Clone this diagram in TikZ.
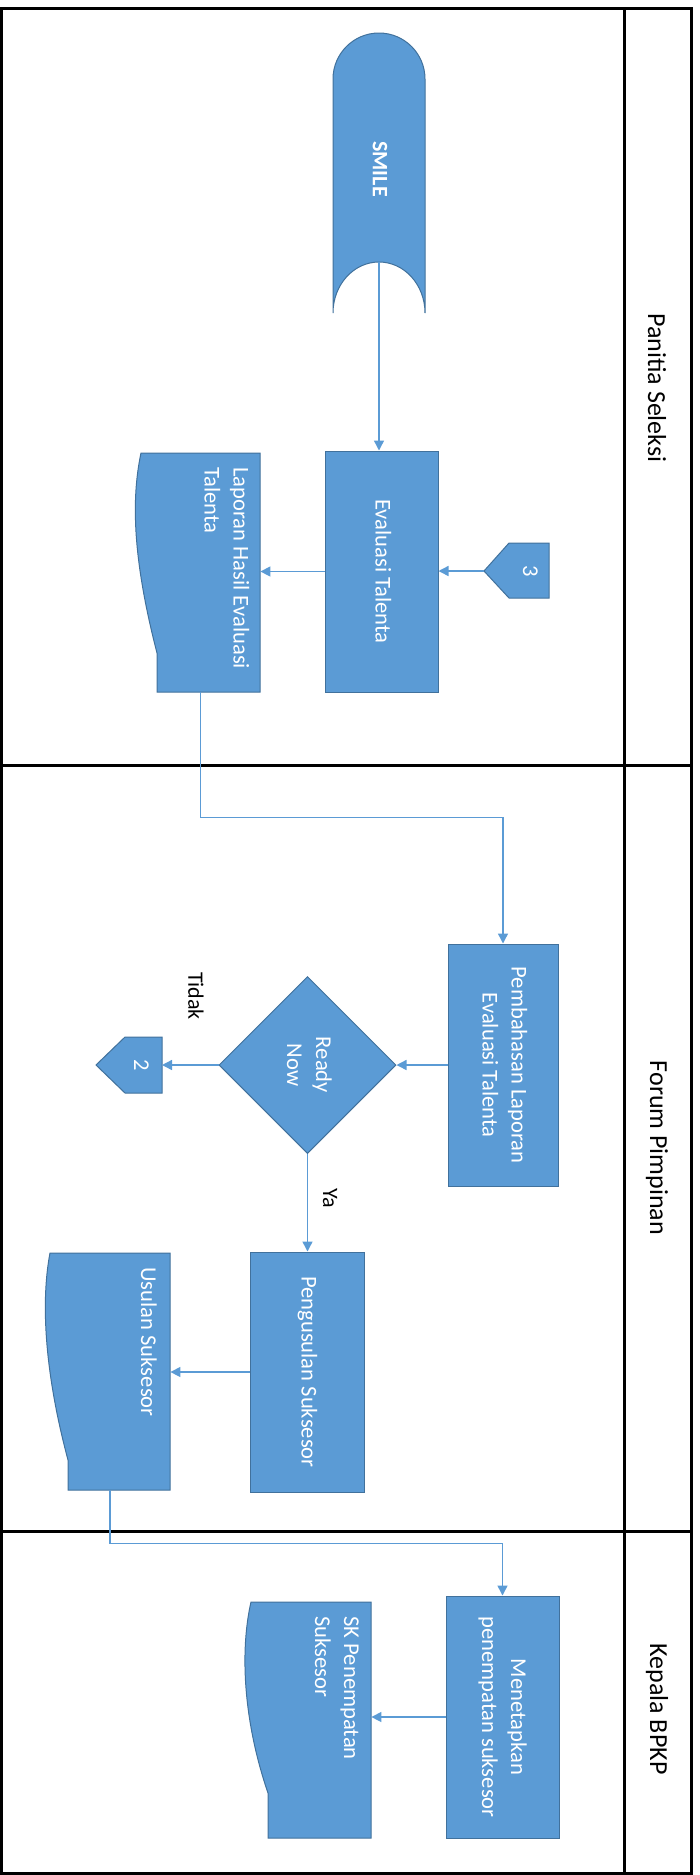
\documentclass[tikz,border=0pt]{standalone}
\usepackage{fontspec}
\setmainfont{Carlito}
\usepackage{graphicx}
\usepackage{tikz}
\usetikzlibrary{arrows.meta,shapes.geometric}

\definecolor{birubox}{RGB}{91,155,213}
\definecolor{birutepi}{RGB}{65,113,156}

\newcommand{\tegak}[1]{\rotatebox{-90}{\begin{tabular}{@{}c@{}}#1\end{tabular}}}
\newcommand{\tegakkiri}[1]{\rotatebox{-90}{\begin{tabular}{@{}l@{}}#1\end{tabular}}}

\tikzset{
	kotak/.style={draw=birutepi, fill=birubox, text=white, inner sep=0pt, line width=0.5pt, font=\fontsize{11.3}{14.5}\selectfont},
	bingkai/.style={inner sep=0pt, text=white, font=\fontsize{11.3}{14.5}\selectfont},
	panah/.style={draw=birubox, line width=0.7pt, -{Triangle[length=5pt,width=5pt]}},
	lajur/.style={font=\fontsize{13}{15}\selectfont, rotate=-90},
	ket/.style={font=\fontsize{11}{13}\selectfont, rotate=-90},
	bentuk/.style={draw=birutepi, fill=birubox, line width=0.5pt},
}

\begin{document}
\begin{tikzpicture}[x=0.5pt, y=-0.5pt]
	\useasboundingbox (0,0) rectangle (700,1875);
	% lajur
	\draw[line width=1.5pt] (1,8) rectangle (691,1873);
	\draw[line width=1.5pt] (624,8) -- (624,1873);
	\foreach \y in {765, 1531} {
			\draw[line width=1.5pt] (1,\y) -- (691,\y);
		}
	\node[lajur] (panitia) at (657,388) {Panitia Seleksi};
	\node[lajur] (forum) at (657,1148) {Forum Pimpinan};
	\node[lajur] (kepala) at (657,1709) {Kepala BPKP};
	% smile
	\draw[bentuk] (333,313) -- (333,79) arc[start angle=180, end angle=360, radius=46] -- (425,313) arc[start angle=0, end angle=-180, x radius=46, y radius=51] -- cycle;
	\node[font=\bfseries\fontsize{11}{13}\selectfont, text=white, rotate=-90] (smile) at (380,169) {SMILE};
	\coordinate (smilebawah) at (379,262);
	% evaluasi
	\node[kotak, minimum width=56.5pt, minimum height=120.5pt] (eval) at (381.5,571.5) {\tegak{Evaluasi Talenta}};
	% konektor 3
	\draw[bentuk] (549,543) -- (509,543) -- (484,571) -- (509,598) -- (549,598) -- cycle;
	\node[bingkai] (tiga) at (529,571) {\tegak{3}};
	\coordinate (tigaujung) at (484,571);
	% laporan
	\draw[bentuk] (141,453) -- (260,453) -- (260,692) -- (157,692) -- (157,653) .. controls (133,560) and (131,500) .. (141,453) -- cycle;
	\node[minimum width=59.5pt, minimum height=119.5pt, inner sep=0pt] (lap) at (200.5,572.5) {};
	\node[bingkai, anchor=north] (laptext) at (225,467) {\tegakkiri{Laporan Hasil Evaluasi\\Talenta}};
	% pembahasan
	\node[kotak, minimum width=55pt, minimum height=121pt] (bahas) at (503,1065) {\tegak{Pembahasan Laporan\\Evaluasi Talenta}};
	% ready now
	\node[kotak, diamond, aspect=1, minimum width=88.5pt, minimum height=88.5pt] (siap) at (307.5,1065) {\tegak{Ready\\Now}};
	% konektor 2
	\draw[bentuk] (162,1037) -- (125,1037) -- (96,1065) -- (125,1093) -- (162,1093) -- cycle;
	\node[bingkai] (dua) at (140,1065) {\tegak{2}};
	\coordinate (duakanan) at (162,1065);
	\node[ket] (tidak) at (196,996) {Tidak};
	\node[ket] (ya) at (330,1198) {Ya};
	% pengusulan
	\node[kotak, minimum width=57pt, minimum height=120pt] (usul) at (307.5,1372) {\tegak{Pengusulan Suksesor}};
	% usulan suksesor
	\draw[bentuk] (50,1253) -- (170,1253) -- (170,1490) -- (68,1490) -- (68,1460) .. controls (44,1370) and (41,1300) .. (50,1253) -- cycle;
	\node[minimum width=60pt, minimum height=118.5pt, inner sep=0pt] (usulan) at (110,1371.5) {};
	\node[bingkai, anchor=north] (usulantext) at (147,1267) {\tegakkiri{Usulan Suksesor}};
	% menetapkan
	\node[kotak, minimum width=56.5pt, minimum height=121pt] (tetap) at (502.5,1717) {\tegak{Menetapkan\\penempatan suksesor}};
	% sk
	\draw[bentuk] (251,1602) -- (371,1602) -- (371,1838) -- (268,1838) -- (268,1793) .. controls (243,1720) and (240,1650) .. (251,1602) -- cycle;
	\node[minimum width=60pt, minimum height=118pt, inner sep=0pt] (sk) at (311,1720) {};
	\node[bingkai, anchor=north] (sktext) at (335.5,1616) {\tegakkiri{SK Penempatan\\Suksesor}};
	% panah
	\draw[panah] (smilebawah) -- (smilebawah |- eval.north);
	\draw[panah] (tigaujung) -- (tigaujung -| eval.east);
	\draw[panah] (eval.west) -- (eval.west -| lap.east);
	\draw[panah] (lap.south) -- ++(0,125) -| (bahas.north);
	\draw[panah] (bahas.west) -- (siap.east);
	\draw[panah] (siap.west) -- (duakanan);
	\draw[panah] (siap.south) -- (usul.north);
	\draw[panah] (usul.west) -- (usul.west -| usulan.east);
	\draw[panah] (usulan.south) -- ++(0,53) -| (tetap.north);
	\draw[panah] (tetap.west) -- (tetap.west -| sk.east);
\end{tikzpicture}
\end{document}
